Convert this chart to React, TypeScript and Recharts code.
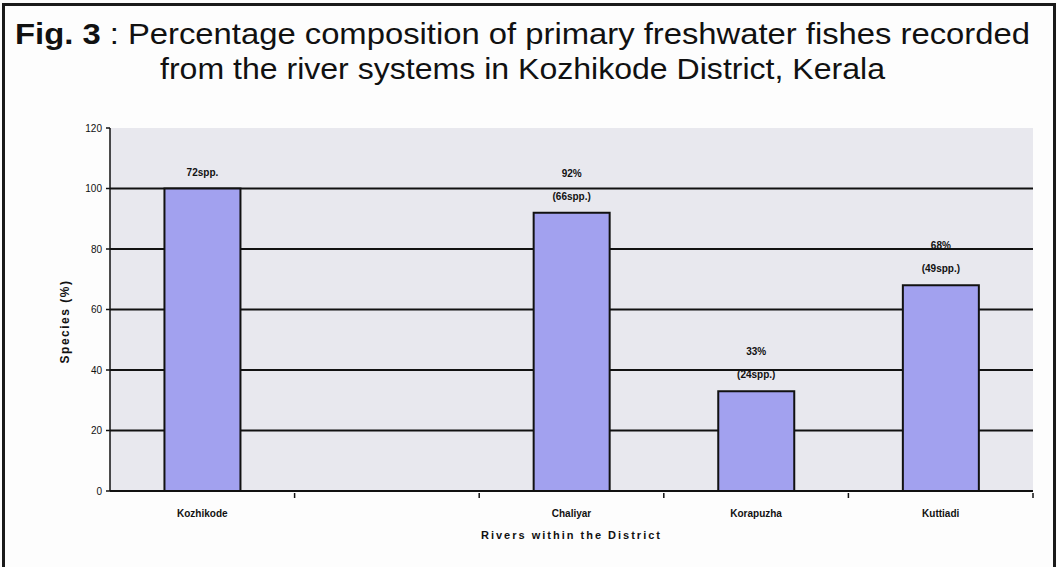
import React from "react";
import { BarChart, Bar, XAxis, YAxis, CartesianGrid, LabelList } from "recharts";

const categories = ["Kozhikode", " ", "Chaliyar", "Korapuzha", "Kuttiadi"];
const percentValues: (number | null)[] = [100, null, 92, 33, 68];
const percentLabels = ["", "", "92%", "33%", "68%"];
const speciesLabels = ["72spp.", "", "(66spp.)", "(24spp.)", "(49spp.)"];
const yTicks = [0, 20, 40, 60, 80, 100, 120];
const gridValues = [20, 40, 60, 80, 100];

const titleLine1Bold = "Fig. 3";
const titleLine1Rest = " : Percentage composition of primary freshwater fishes recorded";
const titleLine2 = "from the river systems in Kozhikode District, Kerala";
const yAxisTitle = "Species (%)";
const xAxisTitle = "Rivers within the District";

const data = categories.map((c, i) => ({
  name: c,
  value: percentValues[i],
  pct: percentLabels[i],
  spp: speciesLabels[i],
}));

const W = 1057;
const H = 567;
const MARGIN = { top: 128, right: 24, bottom: 16, left: 50 };
const Y_AXIS_W = 60;
const X_AXIS_H = 60;
const PLOT_LEFT = MARGIN.left + Y_AXIS_W;
const PLOT_W = W - PLOT_LEFT - MARGIN.right;
const BAND = PLOT_W / categories.length;

const FONT = "'Liberation Sans', Arial, sans-serif";

const XTick = (props: any) => {
  const { x, y, payload } = props;
  return (
    <g>
      <line x1={x + BAND / 2} x2={x + BAND / 2} y1={y - 6} y2={y - 1} stroke="#111" strokeWidth={1.5} />
      <text x={x} y={y + 18} textAnchor="middle" fontFamily={FONT} fontSize={10} fontWeight="bold" fill="#111">
        {payload.value}
      </text>
    </g>
  );
};

const SppLabel = (props: any) => {
  const { x, y, width, value } = props;
  if (!value) return null;
  return (
    <text x={x + width / 2} y={y - 13} textAnchor="middle" fontFamily={FONT} fontSize={10} fontWeight="bold" fill="#111">
      {value}
    </text>
  );
};

const PctLabel = (props: any) => {
  const { x, y, width, value } = props;
  if (!value) return null;
  return (
    <text x={x + width / 2} y={y - 36} textAnchor="middle" fontFamily={FONT} fontSize={10} fontWeight="bold" fill="#111">
      {value}
    </text>
  );
};

export default function App() {
  return (
    <div style={{ position: "absolute", left: 0, top: 0, width: W, height: H, background: "#fdfdfd", overflow: "hidden" }}>
      <div
        style={{
          position: "absolute",
          left: 2,
          top: 3,
          width: W - 9,
          height: H + 20,
          border: "3px solid #1a1a1a",
        }}
      />
      <svg width={W} height={110} style={{ position: "absolute", left: 0, top: 0 }}>
        <text x={15} y={44} fontFamily={FONT} fontSize={29} fill="#111" textLength={1015} lengthAdjust="spacingAndGlyphs">
          <tspan fontWeight="bold">{titleLine1Bold}</tspan>
          <tspan>{titleLine1Rest}</tspan>
        </text>
        <text x={160} y={79} fontFamily={FONT} fontSize={29} fill="#111" textLength={725} lengthAdjust="spacingAndGlyphs">
          {titleLine2}
        </text>
      </svg>
      <div style={{ position: "absolute", left: 0, top: 0 }}>
        <BarChart width={W} height={H} data={data} margin={MARGIN} barCategoryGap="29.5%">
          <CartesianGrid
            vertical={false}
            horizontalValues={gridValues}
            stroke="#111"
            strokeWidth={2}
            fill="#e8e8ee"
            fillOpacity={1}
          />
          <XAxis
            dataKey="name"
            interval={0}
            height={X_AXIS_H}
            axisLine={{ stroke: "#111", strokeWidth: 2 }}
            tickLine={false}
            tick={<XTick />}
            label={(p: any) => {
              const vb = p.viewBox || {};
              return (
                <text
                  x={vb.x + vb.width / 2}
                  y={vb.y + 48}
                  textAnchor="middle"
                  fontFamily={FONT}
                  fontSize={11}
                  fontWeight="bold"
                  letterSpacing={2}
                  fill="#111"
                >
                  {xAxisTitle}
                </text>
              );
            }}
          />
          <YAxis
            width={Y_AXIS_W}
            domain={[0, 120]}
            ticks={yTicks}
            interval={0}
            axisLine={{ stroke: "#111", strokeWidth: 1.5 }}
            tickLine={{ stroke: "#111", strokeWidth: 1.5 }}
            tickSize={4}
            tickMargin={4}
            tick={{ fontFamily: FONT, fontSize: 10, fill: "#111" }}
            label={(p: any) => {
              const vb = p.viewBox || {};
              const cx = vb.x + 15;
              const cy = vb.y + vb.height / 2 + 12;
              return (
                <text
                  x={cx}
                  y={cy}
                  transform={`rotate(-90 ${cx} ${cy})`}
                  textAnchor="middle"
                  dominantBaseline="central"
                  fontFamily={FONT}
                  fontSize={12}
                  fontWeight="bold"
                  letterSpacing={1.5}
                  fill="#111"
                >
                  {yAxisTitle}
                </text>
              );
            }}
          />
          <Bar dataKey="value" fill="#a2a1ef" stroke="#111" strokeWidth={2} isAnimationActive={false}>
            <LabelList dataKey="spp" content={<SppLabel />} />
            <LabelList dataKey="pct" content={<PctLabel />} />
          </Bar>
        </BarChart>
      </div>
    </div>
  );
}
